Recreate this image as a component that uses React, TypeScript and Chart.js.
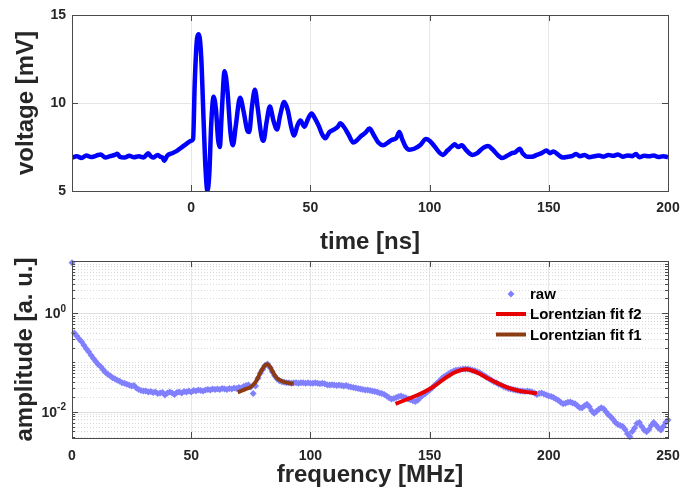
import React, { useEffect, useRef } from "react";
import { Chart, registerables } from "chart.js";

Chart.register(...registerables);

const FONT = '"Liberation Sans", Arial, Helvetica, sans-serif';
const TEXT = "#262626";
const AXIS = "#4a4a4a";

// ---------- top panel: voltage vs time ----------
const timeNs = [
  -50, -48, -46, -44, -42, -40, -38, -36, -34, -32, -31, -30, -28, -26, -24, -22, -20, -18, -17, -16,
  -14, -13, -12, -11.3, -10, -8, -6, -4, -2, 0, 0.8, 1.5, 2.5, 3.2, 4.2, 5.2, 6.0, 6.8, 7.6, 8.4,
  9.4, 10.4, 11.3, 12.0, 12.8, 14.0, 15.2, 16.5, 17.5, 18.7, 20.5, 22.0, 23.5, 24.3, 25.5, 26.7, 28.0, 29.5, 30.3, 31.6,
  33.0, 34.5, 36.0, 37.3, 39.0, 40.5, 42.0, 43.2, 44.5, 45.8, 47.5, 49.0, 50.5, 52.0, 53.5, 55.0, 56.2, 58.0, 60.0, 61.5,
  62.5, 64.0, 66.0, 68.0, 70.0, 71.5, 73.0, 74.8, 76.5, 78.5, 80.5, 82.5, 84.0, 86.0, 87.3, 88.5, 90.0, 91.5, 93.5, 96.0,
  98.5, 100, 102, 104, 105.5, 107.5, 109.5, 110.5, 112, 113.5, 115.5, 118, 120, 122, 124.5, 126.5, 128.5, 130.5, 132.5, 134.5,
  136, 137.8, 139, 141, 143, 145, 147, 149, 150.5, 152, 154, 156, 158, 160, 161.5, 163, 165, 167, 169, 171,
  173, 175, 177, 179, 181, 183, 185, 186.5, 188, 190, 192, 194, 196, 198, 200,
];
const voltageMv = [
  6.9, 6.97, 6.88, 7.02, 6.93, 7.0, 7.08, 6.9, 6.98, 7.05, 7.12, 6.95, 6.9, 7.0, 6.92, 6.97, 6.9, 7.15, 6.98, 6.9,
  7.05, 6.95, 6.9, 6.72, 7.02, 7.15, 7.28, 7.48, 7.68, 7.85, 7.95, 11.2, 13.7, 13.9, 12.6, 9.0, 6.3, 5.0, 6.0, 8.8,
  10.35, 9.6, 7.9, 7.5, 9.4, 11.8, 10.7, 8.3, 7.6, 8.7, 10.3, 9.5, 8.45, 8.35, 9.8, 10.75, 9.6, 8.1, 7.85, 8.9,
  9.8, 9.0, 8.5, 9.3, 10.05, 9.6, 8.6, 8.15, 8.7, 9.0, 8.65, 9.1, 9.4, 9.1, 8.7, 8.2, 8.0, 8.35, 8.5, 8.65,
  8.85, 8.65, 8.2, 7.75, 7.95, 8.15, 8.3, 8.55, 8.2, 7.75, 7.6, 7.75, 7.9, 8.0, 8.35, 7.95, 7.5, 7.35, 7.4, 7.6,
  7.95, 7.85, 7.55, 7.2, 7.05, 7.3, 7.55, 7.65, 7.5, 7.6, 7.3, 7.05, 7.15, 7.4, 7.55, 7.35, 7.05, 6.88, 7.0, 7.15,
  7.2, 7.4, 7.15, 6.95, 6.95, 7.05, 7.15, 7.3, 7.15, 7.25, 7.05, 6.9, 6.95, 7.0, 7.1, 6.98, 7.05, 6.92, 6.97, 7.02,
  6.95, 7.05, 7.0, 7.08, 6.95, 7.02, 6.98, 7.1, 6.92, 7.0, 6.97, 7.02, 6.93, 6.98, 6.92,
];
const timeTicks = [0, 50, 100, 150, 200];
const voltageTicks = [5, 10, 15];

// ---------- bottom panel: spectrum ----------
const frequencyMHz = [
  0, 1, 2, 3, 4, 5, 6, 7, 8, 9, 10, 11, 12, 13, 14, 15, 16, 17, 18, 19,
  20, 21, 22, 23, 24, 25, 26, 27, 28, 29, 30, 31, 32, 33, 34, 35, 36, 37, 38, 39,
  40, 41, 42, 43, 44, 45, 46, 47, 48, 49, 50, 51, 52, 53, 54, 55, 56, 57, 58, 59,
  60, 61, 62, 63, 64, 65, 66, 67, 68, 69, 70, 71, 72, 73, 74, 75, 76, 77, 78, 79,
  80, 81, 82, 83, 84, 85, 86, 87, 88, 89, 90, 91, 92, 93, 94, 95, 96, 97, 98, 99,
  100, 101, 102, 103, 104, 105, 106, 107, 108, 109, 110, 111, 112, 113, 114, 115, 116, 117, 118, 119,
  120, 121, 122, 123, 124, 125, 126, 127, 128, 129, 130, 131, 132, 133, 134, 135, 136, 137, 138, 139,
  140, 141, 142, 143, 144, 145, 146, 147, 148, 149, 150, 151, 152, 153, 154, 155, 156, 157, 158, 159,
  160, 161, 162, 163, 164, 165, 166, 167, 168, 169, 170, 171, 172, 173, 174, 175, 176, 177, 178, 179,
  180, 181, 182, 183, 184, 185, 186, 187, 188, 189, 190, 191, 192, 193, 194, 195, 196, 197, 198, 199,
  200, 201, 202, 203, 204, 205, 206, 207, 208, 209, 210, 211, 212, 213, 214, 215, 216, 217, 218, 219,
  220, 221, 222, 223, 224, 225, 226, 227, 228, 229, 230, 231, 232, 233, 234, 235, 236, 237, 238, 239,
  240, 241, 242, 243, 244, 245, 246, 247, 248, 249, 250,
];
const rawAmplitude = [
  10.7, 0.398, 0.347, 0.302, 0.263, 0.224, 0.191, 0.166, 0.141, 0.120,
  0.105, 0.0912, 0.0832, 0.0724, 0.0631, 0.0575, 0.0537, 0.0490, 0.0468, 0.0437,
  0.0417, 0.0389, 0.0380, 0.0363, 0.0347, 0.0331, 0.0339, 0.0302, 0.0282, 0.0269,
  0.0263, 0.0263, 0.0251, 0.0257, 0.0245, 0.0251, 0.0234, 0.0240, 0.0245, 0.0219,
  0.0240, 0.0251, 0.0240, 0.0224, 0.0245, 0.0251, 0.0240, 0.0257, 0.0251, 0.0263,
  0.0251, 0.0269, 0.0263, 0.0275, 0.0269, 0.0263, 0.0275, 0.0282, 0.0275, 0.0288,
  0.0282, 0.0288, 0.0282, 0.0295, 0.0288, 0.0282, 0.0295, 0.0288, 0.0302, 0.0295,
  0.0309, 0.0302, 0.0324, 0.0339, 0.0347, 0.0316, 0.0234, 0.0331, 0.0479, 0.0603,
  0.0724, 0.0871, 0.0933, 0.0794, 0.0646, 0.0537, 0.0468, 0.0427, 0.0407, 0.0398,
  0.0389, 0.0389, 0.0380, 0.0389, 0.0389, 0.0380, 0.0389, 0.0389, 0.0380, 0.0389,
  0.0380, 0.0380, 0.0389, 0.0380, 0.0372, 0.0380, 0.0372, 0.0355, 0.0347, 0.0355,
  0.0347, 0.0339, 0.0347, 0.0339, 0.0331, 0.0339, 0.0324, 0.0316, 0.0309, 0.0302,
  0.0295, 0.0288, 0.0282, 0.0275, 0.0275, 0.0269, 0.0263, 0.0257, 0.0251, 0.0240,
  0.0234, 0.0224, 0.0209, 0.0191, 0.0182, 0.0186, 0.0195, 0.0204, 0.0209, 0.0200,
  0.0191, 0.0182, 0.0174, 0.0166, 0.0162, 0.0170, 0.0191, 0.0214, 0.0229, 0.0251,
  0.0275, 0.0302, 0.0339, 0.0380, 0.0417, 0.0468, 0.0513, 0.0550, 0.0589, 0.0631,
  0.0661, 0.0692, 0.0708, 0.0724, 0.0741, 0.0741, 0.0741, 0.0724, 0.0692, 0.0676,
  0.0646, 0.0617, 0.0575, 0.0537, 0.0501, 0.0468, 0.0437, 0.0407, 0.0389, 0.0363,
  0.0347, 0.0324, 0.0309, 0.0295, 0.0288, 0.0282, 0.0275, 0.0269, 0.0263, 0.0263,
  0.0257, 0.0263, 0.0257, 0.0251, 0.0240, 0.0224, 0.0234, 0.0240, 0.0229, 0.0219,
  0.0209, 0.0204, 0.0195, 0.0182, 0.0170, 0.0155, 0.0145, 0.0148, 0.0155, 0.0158,
  0.0151, 0.0145, 0.0132, 0.0120, 0.0120, 0.0132, 0.0141, 0.0126, 0.0105, 0.00933,
  0.0102, 0.0112, 0.0120, 0.0115, 0.0100, 0.00871, 0.00794, 0.00692, 0.00603, 0.00550,
  0.00525, 0.00501, 0.00437, 0.00355, 0.00309, 0.00398, 0.00468, 0.00575, 0.00603, 0.00501,
  0.00427, 0.00389, 0.00437, 0.00525, 0.00603, 0.00537, 0.00468, 0.00427, 0.00501, 0.00603,
  0.0068,
];
const fitF1FrequencyMHz = [69.5, 71, 73, 75, 77, 78, 79, 80, 81, 82, 83, 84, 85, 86, 88, 90, 93];
const fitF1Amplitude = [0.0248, 0.0265, 0.029, 0.032, 0.04, 0.049, 0.062, 0.076, 0.088, 0.092, 0.083, 0.068, 0.055, 0.048, 0.042, 0.039, 0.037];
const fitF2FrequencyMHz = [135.7, 140, 145, 150, 153, 156, 160, 163, 165.5, 168, 171, 175, 178.5, 182, 187, 191, 195];
const fitF2Amplitude = [0.0144, 0.0175, 0.0218, 0.029, 0.036, 0.046, 0.061, 0.07, 0.073, 0.068, 0.059, 0.046, 0.038, 0.032, 0.027, 0.025, 0.0236];
const frequencyTicks = [0, 50, 100, 150, 200, 250];
const amplitudeMajorTicks = [0.01, 1];
const amplitudeMajorExponents = ["-2", "0"];
const amplitudeMinorTicks = [
  0.003, 0.004, 0.005, 0.006, 0.007, 0.008, 0.009,
  0.02, 0.03, 0.04, 0.05, 0.06, 0.07, 0.08, 0.09, 0.1,
  0.2, 0.3, 0.4, 0.5, 0.6, 0.7, 0.8, 0.9,
  2, 3, 4, 5, 6, 7, 8, 9, 10,
];
const legendLabels = ["raw", "Lorentzian fit f2", "Lorentzian fit f1"];

const RAW_COLOR = "#8080ff";
const F2_COLOR = "#e60000";
const F1_COLOR = "#8c3c12";

function framePlugin(id: string, xTicks: number[], yMajor: number[], yMinor: number[] | null) {
  return {
    id,
    beforeDatasetsDraw(chart: any) {
      if (!yMinor) return;
      const { ctx, chartArea: a } = chart;
      const y = chart.scales.y;
      ctx.save();
      ctx.lineWidth = 1;
      ctx.strokeStyle = "#dadada";
      ctx.setLineDash([1, 2]);
      for (const v of yMinor) {
        const py = Math.round(y.getPixelForValue(v)) + 0.5;
        if (py < a.top || py > a.bottom) continue;
        ctx.beginPath();
        ctx.moveTo(a.left, py);
        ctx.lineTo(a.right, py);
        ctx.stroke();
      }
      ctx.setLineDash([]);
      ctx.strokeStyle = "#e0e0e0";
      for (const v of yMajor) {
        const py = Math.round(y.getPixelForValue(v)) + 0.5;
        ctx.beginPath();
        ctx.moveTo(a.left, py);
        ctx.lineTo(a.right, py);
        ctx.stroke();
      }
      ctx.restore();
    },
    afterDatasetsDraw(chart: any) {
      const { ctx, chartArea: a } = chart;
      const x = chart.scales.x;
      const y = chart.scales.y;
      ctx.save();
      ctx.strokeStyle = AXIS;
      ctx.lineWidth = 1;
      ctx.strokeRect(Math.round(a.left) + 0.5, Math.round(a.top) + 0.5, Math.round(a.right - a.left), Math.round(a.bottom - a.top));
      ctx.beginPath();
      for (const v of xTicks) {
        const px = Math.round(x.getPixelForValue(v)) + 0.5;
        ctx.moveTo(px, a.bottom);
        ctx.lineTo(px, a.bottom - 6);
        ctx.moveTo(px, a.top);
        ctx.lineTo(px, a.top + 6);
      }
      for (const v of yMajor) {
        const py = Math.round(y.getPixelForValue(v)) + 0.5;
        ctx.moveTo(a.left, py);
        ctx.lineTo(a.left + 6, py);
        ctx.moveTo(a.right, py);
        ctx.lineTo(a.right - 6, py);
      }
      if (yMinor) {
        for (const v of yMinor) {
          const py = Math.round(y.getPixelForValue(v)) + 0.5;
          if (py < a.top || py > a.bottom) continue;
          ctx.moveTo(a.left, py);
          ctx.lineTo(a.left + 3, py);
          ctx.moveTo(a.right, py);
          ctx.lineTo(a.right - 3, py);
        }
      }
      ctx.stroke();
      ctx.restore();
    },
  };
}

const logLabelPlugin = {
  id: "logLabels",
  afterDraw(chart: any) {
    const { ctx } = chart;
    const y = chart.scales.y;
    ctx.save();
    ctx.fillStyle = TEXT;
    ctx.textBaseline = "middle";
    ctx.textAlign = "left";
    amplitudeMajorTicks.forEach((v, i) => {
      const py = y.getPixelForValue(v);
      const exp = amplitudeMajorExponents[i];
      ctx.font = `bold 10px ${FONT}`;
      const ew = ctx.measureText(exp).width;
      ctx.font = `bold 14px ${FONT}`;
      const bw = ctx.measureText("10").width;
      const right = 66;
      ctx.fillText("10", right - ew - bw, py + 1);
      ctx.font = `bold 10px ${FONT}`;
      ctx.fillText(exp, right - ew, py - 4);
    });
    ctx.restore();
  },
};

const legendPlugin = {
  id: "insideLegend",
  afterDraw(chart: any) {
    const { ctx } = chart;
    ctx.save();
    ctx.font = `bold 15px ${FONT}`;
    ctx.textBaseline = "middle";
    ctx.textAlign = "left";
    const rows = [44, 64, 84.5];
    const textX = 530;
    ctx.fillStyle = RAW_COLOR;
    ctx.beginPath();
    ctx.moveTo(511, rows[0] - 3.5);
    ctx.lineTo(514.5, rows[0]);
    ctx.lineTo(511, rows[0] + 3.5);
    ctx.lineTo(507.5, rows[0]);
    ctx.closePath();
    ctx.fill();
    ctx.lineWidth = 4;
    ctx.strokeStyle = F2_COLOR;
    ctx.beginPath();
    ctx.moveTo(496, rows[1]);
    ctx.lineTo(526, rows[1]);
    ctx.stroke();
    ctx.strokeStyle = F1_COLOR;
    ctx.beginPath();
    ctx.moveTo(496, rows[2]);
    ctx.lineTo(526, rows[2]);
    ctx.stroke();
    ctx.fillStyle = "#000";
    legendLabels.forEach((t, i) => ctx.fillText(t, textX, rows[i] + 1));
    ctx.restore();
  },
};

const tickFont = { family: FONT, size: 14, weight: "bold" as const };
const titleFont = { family: FONT, size: 24, weight: "bold" as const };

export default function App() {
  const topRef = useRef<HTMLCanvasElement | null>(null);
  const botRef = useRef<HTMLCanvasElement | null>(null);

  useEffect(() => {
    const top = new Chart(topRef.current as HTMLCanvasElement, {
      type: "line",
      data: {
        datasets: [
          {
            label: "voltage",
            data: timeNs.map((t, i) => ({ x: t, y: voltageMv[i] })),
            borderColor: "#0000ff",
            borderWidth: 4.5,
            pointRadius: 0,
            cubicInterpolationMode: "monotone",
            fill: false,
          },
        ],
      },
      options: {
        responsive: false,
        animation: false,
        devicePixelRatio: 1,
        layout: { padding: { top: 15, right: 16, left: 0, bottom: 0 } },
        plugins: { legend: { display: false }, tooltip: { enabled: false } },
        scales: {
          x: {
            type: "linear",
            min: -50,
            max: 200,
            afterBuildTicks: (s: any) => {
              s.ticks = timeTicks.map((v) => ({ value: v }));
            },
            afterFit: (s: any) => {
              s.height = 67;
              s.paddingLeft = 0;
              s.paddingRight = 0;
            },
            grid: { color: "#e6e6e6", drawTicks: false },
            border: { display: false },
            ticks: { padding: 9, font: tickFont, color: TEXT, maxRotation: 0 },
            title: { display: true, text: "time [ns]", font: titleFont, color: TEXT, padding: { top: 0, bottom: 1 } },
          },
          y: {
            type: "linear",
            min: 5,
            max: 15,
            afterBuildTicks: (s: any) => {
              s.ticks = voltageTicks.map((v) => ({ value: v }));
            },
            afterFit: (s: any) => {
              s.width = 72;
              s.paddingTop = 0;
              s.paddingBottom = 0;
            },
            grid: { color: "#e6e6e6", drawTicks: false },
            border: { display: false },
            ticks: { padding: 6, font: tickFont, color: TEXT },
            title: { display: true, text: "voltage [mV]", font: titleFont, color: TEXT, padding: { top: 12, bottom: 0 } },
          },
        },
      },
      plugins: [framePlugin("frameTop", timeTicks, voltageTicks, null)],
    } as any);

    const bot = new Chart(botRef.current as HTMLCanvasElement, {
      type: "scatter",
      data: {
        datasets: [
          {
            label: legendLabels[0],
            data: frequencyMHz.map((f, i) => ({ x: f, y: rawAmplitude[i] })),
            backgroundColor: RAW_COLOR,
            borderWidth: 0,
            pointStyle: "rectRot",
            pointRadius: 3.5,
            showLine: false,
            clip: false,
            order: 3,
          },
          {
            label: legendLabels[1],
            data: fitF2FrequencyMHz.map((f, i) => ({ x: f, y: fitF2Amplitude[i] })),
            borderColor: F2_COLOR,
            borderWidth: 4,
            pointRadius: 0,
            showLine: true,
            cubicInterpolationMode: "monotone",
            order: 2,
          },
          {
            label: legendLabels[2],
            data: fitF1FrequencyMHz.map((f, i) => ({ x: f, y: fitF1Amplitude[i] })),
            borderColor: F1_COLOR,
            borderWidth: 4,
            pointRadius: 0,
            showLine: true,
            cubicInterpolationMode: "monotone",
            order: 1,
          },
        ],
      },
      options: {
        responsive: false,
        animation: false,
        devicePixelRatio: 1,
        layout: { padding: { top: 11, right: 16, left: 0, bottom: 0 } },
        plugins: { legend: { display: false }, tooltip: { enabled: false } },
        scales: {
          x: {
            type: "linear",
            min: 0,
            max: 250,
            afterBuildTicks: (s: any) => {
              s.ticks = frequencyTicks.map((v) => ({ value: v }));
            },
            afterFit: (s: any) => {
              s.height = 60;
              s.paddingLeft = 0;
              s.paddingRight = 0;
            },
            grid: { color: "#e6e6e6", drawTicks: false },
            border: { display: false },
            ticks: { padding: 10, font: tickFont, color: TEXT, maxRotation: 0 },
            title: { display: true, text: "frequency [MHz]", font: titleFont, color: TEXT, padding: { top: 0, bottom: 8 } },
          },
          y: {
            type: "logarithmic",
            min: 0.00292,
            max: 11.56,
            afterFit: (s: any) => {
              s.width = 72;
              s.paddingTop = 0;
              s.paddingBottom = 0;
            },
            grid: { display: false },
            border: { display: false },
            ticks: { display: false },
            title: { display: true, text: "amplitude [a. u.]", font: titleFont, color: TEXT, padding: { top: 11, bottom: 0 } },
          },
        },
      },
      plugins: [framePlugin("frameBot", frequencyTicks, amplitudeMajorTicks, amplitudeMinorTicks), logLabelPlugin, legendPlugin],
    } as any);

    return () => {
      top.destroy();
      bot.destroy();
    };
  }, []);

  return (
    <div style={{ position: "fixed", left: 0, top: 0, width: 684, height: 498, background: "#fff" }}>
      <canvas ref={topRef} width={684} height={258} style={{ position: "absolute", left: 0, top: 0 }} />
      <canvas ref={botRef} width={684} height={248} style={{ position: "absolute", left: 0, top: 250 }} />
    </div>
  );
}
